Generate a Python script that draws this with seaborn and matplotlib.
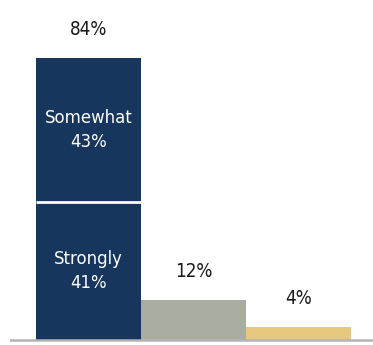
import matplotlib
matplotlib.use("Agg")
import matplotlib.pyplot as plt
import seaborn as sns
import pandas as pd

# Survey response shares (%)
categories = ["Agree", "Neutral", "Disagree"]
strongly = 41
somewhat = 43
totals = [strongly + somewhat, 12, 4]
colors = ["#17365d", "#a8ada0", "#e6c77e"]

sns.set_theme(style="white")
plt.rcParams["font.family"] = ["DejaVu Sans"]
plt.rcParams["font.stretch"] = "condensed"

PX = 3.36  # pixels per percentage point

fig = plt.figure(figsize=(3.73, 3.45), dpi=100)
ax = fig.add_axes([10 / 373, 0, 363 / 373, 1])

# Base layer: the "strongly" part of the first bar and the two single bars
base = pd.DataFrame({"category": categories,
                     "value": [strongly, totals[1], totals[2]]})
sns.barplot(data=base, x="category", y="value", hue="category",
            palette=colors, width=1.0, legend=False, ax=ax,
            edgecolor="none", linewidth=0, saturation=1)

# Stacked "somewhat" segment on top of the first bar
ax.bar(0, somewhat, bottom=strongly, width=1.0, color=colors[0], linewidth=0)
ax.hlines(strongly, -0.5, 0.5, color="white", lw=2.0, zorder=5)

# Baseline
ax.axhline(0, color="#b4b4b4", lw=1.8, zorder=6)

# Value labels
lab_kw = dict(ha="center", va="center", fontsize=13.5, color="#1a1a1a",
              fontstretch="condensed")
for i, v in enumerate(totals):
    ax.text(i, v + 28 / PX, f"{v}%", **lab_kw)

in_kw = dict(ha="center", va="center", fontsize=13.2, color="white",
             linespacing=1.4, fontstretch="condensed")
ax.text(0, strongly + somewhat / 2, f"Somewhat\n{somewhat}%", **in_kw)
ax.text(0, strongly / 2, f"Strongly\n{strongly}%", **in_kw)

ax.set_xlim(-0.748, 2.71)
ax.set_ylim(-5 / PX, 340 / PX)
ax.set_xlabel("")
ax.set_ylabel("")
ax.set_xticks([])
ax.set_yticks([])
for s in ax.spines.values():
    s.set_visible(False)

fig.savefig("out.png", dpi=100)
